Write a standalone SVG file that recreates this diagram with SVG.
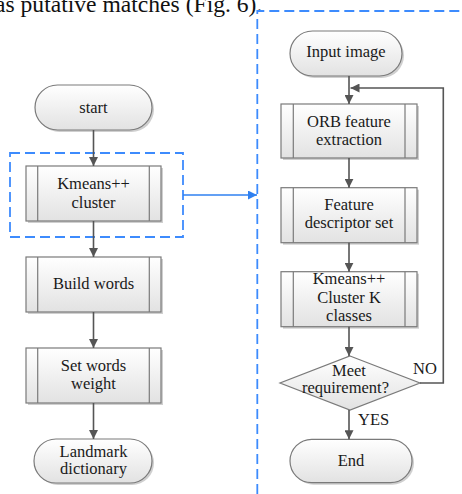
<svg xmlns="http://www.w3.org/2000/svg" width="462" height="494" viewBox="0 0 462 494">
<defs>
<linearGradient id="g" x1="0" y1="0" x2="0" y2="1">
<stop offset="0" stop-color="#ffffff"/>
<stop offset="1" stop-color="#e2e2e2"/>
</linearGradient>
<marker id="ah" viewBox="0 0 10 10" refX="10" refY="5" markerWidth="9" markerHeight="9" markerUnits="userSpaceOnUse" orient="auto">
<path d="M0,0 L10,5 L0,10 z" fill="#555555"/>
</marker>
<marker id="ahb" viewBox="0 0 10 10" refX="10" refY="5" markerWidth="9" markerHeight="9" markerUnits="userSpaceOnUse" orient="auto">
<path d="M0,0 L10,5 L0,10 z" fill="#2f80f0"/>
</marker>
</defs>
<style>
.sh{fill:#cfcfcf;stroke:none}
.n{fill:url(#g);stroke:#7a7a7a;stroke-width:1.2}
.il{stroke:#7a7a7a;stroke-width:1.2}
.t{font-size:16.5px;fill:#1a1a1a;text-anchor:middle}
.l{font-size:16.5px;fill:#1a1a1a}
.c{fill:none;stroke:#555555;stroke-width:1.6}
.d{fill:none;stroke:#3d8bfd;stroke-width:1.8;stroke-dasharray:10 5}
</style>
<rect width="462" height="494" fill="#ffffff"/>
<g font-family="Liberation Serif, Times New Roman, serif">
<text x="-5" y="11.7" font-size="23.6" fill="#111">as putative matches (Fig. 6).</text>

<g id="dashed-boxes">
<rect class="d" x="10" y="153" width="173" height="84"/>
<path class="d" d="M257.3,494 V11 H470"/>
</g>

<g id="start">
<rect class="sh" x="37" y="87" width="117" height="45" rx="22.5"/>
<rect class="n" x="35" y="85" width="117" height="45" rx="22.5"/>
<text class="t" x="93.5" y="113">start</text>
</g>
<g id="kmeans-cluster">
<rect class="sh" x="28" y="168" width="135" height="55"/>
<rect class="n" x="26" y="166" width="135" height="55"/>
<line class="il" x1="37.7" y1="166" x2="37.7" y2="221"/>
<line class="il" x1="149.3" y1="166" x2="149.3" y2="221"/>
<text class="t" x="93.5" y="189">Kmeans++</text>
<text class="t" x="93.5" y="207.5">cluster</text>
</g>
<g id="build-words">
<rect class="sh" x="28" y="259" width="135" height="55"/>
<rect class="n" x="26" y="257" width="135" height="55"/>
<line class="il" x1="37.7" y1="257" x2="37.7" y2="312"/>
<line class="il" x1="149.3" y1="257" x2="149.3" y2="312"/>
<text class="t" x="93.5" y="289">Build words</text>
</g>
<g id="set-words-weight">
<rect class="sh" x="28" y="350" width="135" height="55"/>
<rect class="n" x="26" y="348" width="135" height="55"/>
<line class="il" x1="37.7" y1="348" x2="37.7" y2="403"/>
<line class="il" x1="149.3" y1="348" x2="149.3" y2="403"/>
<text class="t" x="93.5" y="370.5">Set words</text>
<text class="t" x="93.5" y="389">weight</text>
</g>
<g id="landmark-dictionary">
<rect class="sh" x="36" y="441" width="118" height="44" rx="22"/>
<rect class="n" x="34" y="439" width="118" height="44" rx="22"/>
<text class="t" x="93.5" y="456.5">Landmark</text>
<text class="t" x="93.5" y="474">dictionary</text>
</g>

<g id="input-image">
<rect class="sh" x="292" y="33" width="112" height="45" rx="22.5"/>
<rect class="n" x="290" y="31" width="112" height="45" rx="22.5"/>
<text class="t" x="346" y="57">Input image</text>
</g>
<g id="orb">
<rect class="sh" x="283" y="106" width="136" height="54"/>
<rect class="n" x="281" y="104" width="136" height="54"/>
<line class="il" x1="293.3" y1="104" x2="293.3" y2="158"/>
<line class="il" x1="405" y1="104" x2="405" y2="158"/>
<text class="t" x="349" y="127">ORB feature</text>
<text class="t" x="349" y="144.5">extraction</text>
</g>
<g id="feature-descriptor">
<rect class="sh" x="283" y="189.7" width="136" height="55"/>
<rect class="n" x="281" y="187.7" width="136" height="55"/>
<line class="il" x1="293.3" y1="187.7" x2="293.3" y2="242.7"/>
<line class="il" x1="405" y1="187.7" x2="405" y2="242.7"/>
<text class="t" x="349" y="209.5">Feature</text>
<text class="t" x="349" y="227.5">descriptor set</text>
</g>
<g id="kmeans-k">
<rect class="sh" x="283" y="273.7" width="136" height="55"/>
<rect class="n" x="281" y="271.7" width="136" height="55"/>
<line class="il" x1="293.3" y1="271.7" x2="293.3" y2="326.7"/>
<line class="il" x1="405" y1="271.7" x2="405" y2="326.7"/>
<text class="t" x="349" y="283.5">Kmeans++</text>
<text class="t" x="349" y="302.5">Cluster K</text>
<text class="t" x="349" y="321">classes</text>
</g>
<g id="meet-requirement">
<polygon class="n" points="350,356 420,383 350,410 280,383"/>
<text class="t" x="349" y="375.5">Meet</text>
<text class="t" x="345.5" y="393">requirement?</text>
</g>
<g id="end">
<rect class="sh" x="292" y="441.3" width="122" height="43.4" rx="21.7"/>
<rect class="n" x="290" y="439.3" width="122" height="43.4" rx="21.7"/>
<text class="t" x="351" y="465.5">End</text>
</g>

<g id="connectors">
<line class="c" x1="93.5" y1="130" x2="93.5" y2="166" marker-end="url(#ah)"/>
<line class="c" x1="93.5" y1="221" x2="93.5" y2="257" marker-end="url(#ah)"/>
<line class="c" x1="93.5" y1="312" x2="93.5" y2="348" marker-end="url(#ah)"/>
<line class="c" x1="93.5" y1="403" x2="93.5" y2="439" marker-end="url(#ah)"/>
<line x1="183" y1="195" x2="257" y2="195" stroke="#2f80f0" stroke-width="1.6" marker-end="url(#ahb)"/>
<line class="c" x1="349" y1="76" x2="349" y2="104" marker-end="url(#ah)"/>
<line class="c" x1="349" y1="158" x2="349" y2="187.7" marker-end="url(#ah)"/>
<line class="c" x1="349" y1="242.7" x2="349" y2="271.7" marker-end="url(#ah)"/>
<line class="c" x1="349" y1="326.7" x2="349" y2="356" marker-end="url(#ah)"/>
<line class="c" x1="349" y1="410" x2="349" y2="439.3" marker-end="url(#ah)"/>
<path class="c" d="M420,383 H443.3 V88 H350.5" marker-end="url(#ah)"/>
<text class="l" x="413" y="374">NO</text>
<text class="l" x="358" y="425">YES</text>
</g>
</g>
</svg>
